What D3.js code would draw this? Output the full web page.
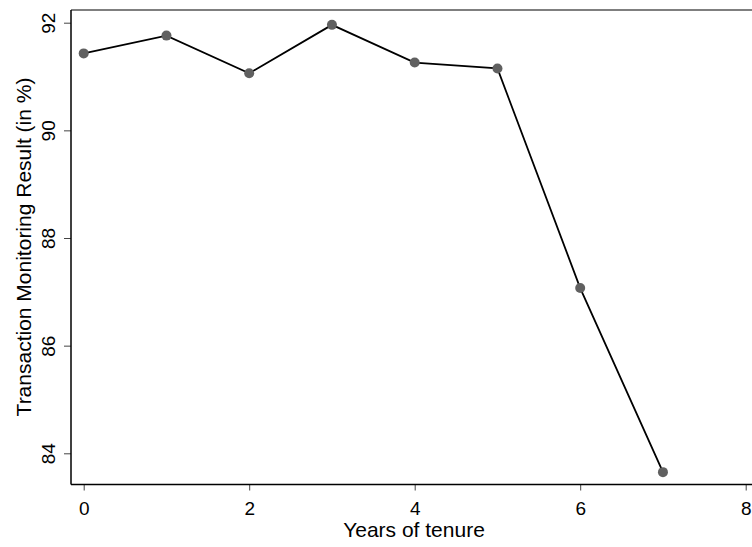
<!DOCTYPE html>
<html>
<head>
<meta charset="utf-8">
<script src="https://cdn.jsdelivr.net/npm/d3@7"></script>
<style>
  html, body { margin: 0; padding: 0; background: #fff; }
  svg { display: block; font-family: "Liberation Sans", Arial, sans-serif; }
</style>
</head>
<body>
<svg id="chart" width="752" height="547"></svg>
<script>
// Mean transaction monitoring result by years of tenure
const years = [0, 1, 2, 3, 4, 5, 6, 7];
const result = [91.43, 91.76, 91.06, 91.96, 91.26, 91.15, 87.07, 83.65];
const xTicks = [0, 2, 4, 6, 8];
const yTicks = [84, 86, 88, 90, 92];

const width = 752, height = 547;
const svg = d3.select("#chart");

const plotLeft = 71, plotTop = 10, plotBottom = 484.5;

const x = d3.scaleLinear().domain([0, 8]).range([83.7, 745.7]);
const y = d3.scaleLinear().domain([84, 92]).range([453.3, 22.7]);

// Frame: top line
svg.append("line")
  .attr("x1", plotLeft).attr("x2", width)
  .attr("y1", plotTop).attr("y2", plotTop)
  .attr("stroke", "#000").attr("stroke-width", 1.2);

// X axis
const xAxis = svg.append("g")
  .attr("transform", `translate(0,${plotBottom})`)
  .call(d3.axisBottom(x).tickValues(xTicks).tickSize(6).tickPadding(5).tickFormat(d3.format("d")));
xAxis.select(".domain").remove();
xAxis.selectAll(".tick line").attr("stroke", "#444").attr("stroke-width", 1);
xAxis.selectAll(".tick text")
  .attr("font-size", 19).attr("fill", "#000")
  .attr("font-family", "Liberation Sans, Arial, sans-serif")
  .attr("y", 30.5).attr("dy", null);
svg.append("line")
  .attr("x1", plotLeft).attr("x2", width)
  .attr("y1", plotBottom).attr("y2", plotBottom)
  .attr("stroke", "#000").attr("stroke-width", 1.5);

// Y axis
const yAxis = svg.append("g")
  .attr("transform", `translate(${plotLeft},0)`)
  .call(d3.axisLeft(y).tickValues(yTicks).tickSize(7).tickFormat(d3.format("d")));
yAxis.select(".domain").remove();
yAxis.selectAll(".tick line").attr("stroke", "#444").attr("stroke-width", 1);
yAxis.selectAll(".tick text")
  .attr("font-size", 19).attr("fill", "#000")
  .attr("font-family", "Liberation Sans, Arial, sans-serif")
  .attr("x", null).attr("dy", null)
  .attr("text-anchor", "middle")
  .attr("transform", "translate(-16,0) rotate(-90)");
svg.append("line")
  .attr("x1", plotLeft).attr("x2", plotLeft)
  .attr("y1", plotTop).attr("y2", plotBottom)
  .attr("stroke", "#000").attr("stroke-width", 1.5);

// Series line
const line = d3.line().x((d, i) => x(years[i])).y(d => y(d));
svg.append("path")
  .datum(result)
  .attr("d", line)
  .attr("fill", "none")
  .attr("stroke", "#000")
  .attr("stroke-width", 1.8);

// Markers
svg.selectAll("circle.pt")
  .data(result)
  .join("circle")
  .attr("class", "pt")
  .attr("cx", (d, i) => x(years[i]))
  .attr("cy", d => y(d))
  .attr("r", 5)
  .attr("fill", "#606060");

// Axis titles
svg.append("text")
  .attr("x", 414).attr("y", 537)
  .attr("text-anchor", "middle")
  .attr("font-size", 21)
  .text("Years of tenure");

svg.append("text")
  .attr("transform", "translate(31,247) rotate(-90)")
  .attr("text-anchor", "middle")
  .attr("font-size", 21)
  .text("Transaction Monitoring Result (in %)");
</script>
</body>
</html>
